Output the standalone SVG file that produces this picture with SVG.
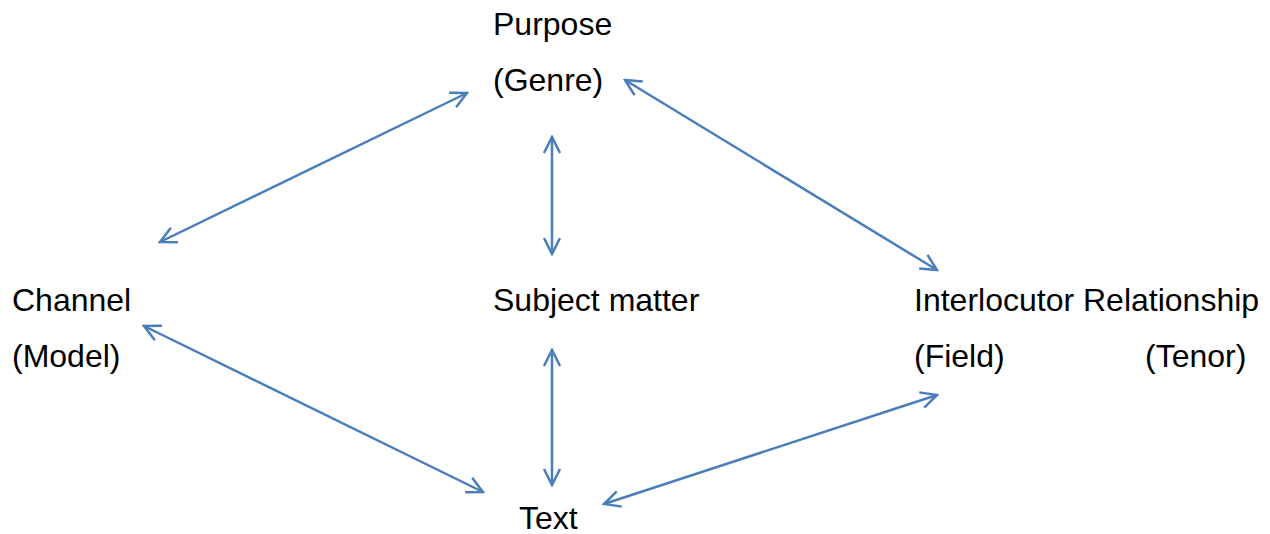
<svg xmlns="http://www.w3.org/2000/svg" width="1270" height="534" viewBox="0 0 1270 534">
<style>
text{font-family:"Liberation Sans",Arial,sans-serif;font-size:32px;fill:#000}
.c{stroke:#4a7ebb;stroke-width:2.5;fill:none;marker-start:url(#a);marker-end:url(#a)}
</style>
<defs>
<marker id="a" viewBox="0 0 20 20" refX="18" refY="10" markerWidth="20" markerHeight="20" markerUnits="userSpaceOnUse" orient="auto-start-reverse">
<path d="M2,2 L18,10 L2,18" fill="none" stroke="#4a7ebb" stroke-width="2.5"/>
</marker>
</defs>
<g id="purpose"><text x="493" y="35">Purpose</text><text x="493" y="91">(Genre)</text></g>
<g id="channel"><text x="12" y="311">Channel</text><text x="12" y="367">(Model)</text></g>
<g id="subject"><text x="493" y="311">Subject matter</text></g>
<g id="interlocutor"><text x="914" y="311">Interlocutor Relationship</text><text x="914" y="367">(Field)</text><text x="1145" y="367">(Tenor)</text></g>
<g id="text"><text x="519" y="529">Text</text></g>
<g id="connectors">
<line class="c" x1="467" y1="93" x2="160" y2="242"/>
<line class="c" x1="625" y1="80" x2="937" y2="270"/>
<line class="c" x1="552" y1="137" x2="552" y2="254"/>
<line class="c" x1="552" y1="350" x2="552" y2="485"/>
<line class="c" x1="144" y1="326" x2="483" y2="492"/>
<line class="c" x1="604" y1="504" x2="937" y2="395"/>
</g>
</svg>
